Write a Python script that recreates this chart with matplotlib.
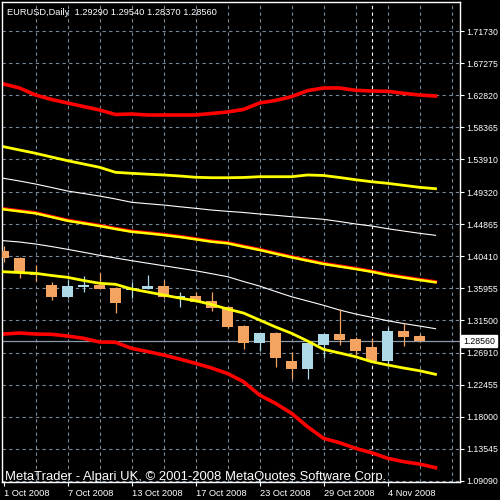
import matplotlib
matplotlib.use("Agg")
import matplotlib.pyplot as plt
import matplotlib.transforms as mtransforms
from matplotlib import font_manager
import numpy as np

# daily EURUSD bars, 1 Oct - 6 Nov 2008
dates = ["1 Oct", "2 Oct", "3 Oct", "6 Oct", "7 Oct", "8 Oct", "9 Oct", "10 Oct",
         "13 Oct", "14 Oct", "15 Oct", "16 Oct", "17 Oct", "20 Oct", "21 Oct", "22 Oct",
         "23 Oct", "24 Oct", "27 Oct", "28 Oct", "29 Oct", "30 Oct", "31 Oct",
         "3 Nov", "4 Nov", "5 Nov", "6 Nov"]
opens = [1.4111, 1.4013, 1.3804, 1.3637, 1.3470, 1.3609, 1.3637, 1.3596,
         1.3568, 1.3582, 1.3623, 1.3456, 1.3484, 1.3415, 1.3331, 1.3066,
         1.2830, 1.2969, 1.2579, 1.2468, 1.2802, 1.2955, 1.2885,
         1.2774, 1.2579, 1.2997, 1.29290]
highs = [1.4180, 1.4027, 1.3916, 1.3679, 1.3707, 1.3763, 1.3804, 1.3603,
         1.3679, 1.3776, 1.3707, 1.3540, 1.3540, 1.3540, 1.3345, 1.3080,
         1.2975, 1.2983, 1.2705, 1.2844, 1.2962, 1.3303, 1.2913,
         1.2899, 1.3053, 1.3108, 1.29540]
lows = [1.3957, 1.3735, 1.3693, 1.3428, 1.3463, 1.3540, 1.3575, 1.3247,
        1.3456, 1.3575, 1.3463, 1.3331, 1.3394, 1.3275, 1.3040, 1.2746,
        1.2718, 1.2496, 1.2329, 1.2329, 1.2621, 1.2802, 1.2663,
        1.2572, 1.2523, 1.2788, 1.28370]
closes = [1.4013, 1.3804, 1.3776, 1.3470, 1.3623, 1.3637, 1.3582, 1.3387,
          1.3596, 1.3623, 1.3470, 1.3484, 1.3401, 1.3317, 1.3053, 1.2830,
          1.2969, 1.2621, 1.2468, 1.2830, 1.2955, 1.2872, 1.2718,
          1.2579, 1.2997, 1.2913, 1.28560]

# indicator lines (one value more than bars, drawn one bar ahead)
red_upper = [1.6436, 1.6380, 1.6282, 1.6220, 1.6171, 1.6122, 1.6074, 1.6011, 1.6018, 1.6004,
             1.6004, 1.6004, 1.6004, 1.6025, 1.6046, 1.6081, 1.6171, 1.6206, 1.6259, 1.6343,
             1.6380, 1.6380, 1.6348, 1.6338, 1.6334, 1.6306, 1.6282, 1.6268]
yellow_upper = [1.5563, 1.5517, 1.5471, 1.5419, 1.5368, 1.5322, 1.5276, 1.5206, 1.5192, 1.5180,
                1.5169, 1.5155, 1.5137, 1.5131, 1.5131, 1.5134, 1.5145, 1.5145, 1.5145, 1.5169,
                1.5162, 1.5134, 1.5103, 1.5075, 1.5053, 1.5025, 1.4997, 1.4978]
white_upper = [1.5123, 1.5085, 1.5043, 1.4995, 1.4946, 1.4911, 1.4876, 1.4835, 1.4789, 1.4769,
               1.4751, 1.4727, 1.4705, 1.4681, 1.4663, 1.4647, 1.4626, 1.4608, 1.4588, 1.4570,
               1.4552, 1.4521, 1.4487, 1.4459, 1.4421, 1.4389, 1.4357, 1.4329]
middle = [1.4691, 1.4663, 1.4635, 1.4584, 1.4532, 1.4496, 1.4459, 1.4417, 1.4379, 1.4357,
          1.4333, 1.4306, 1.4274, 1.4240, 1.4218, 1.4170, 1.4125, 1.4073, 1.4023, 1.3976,
          1.3930, 1.3895, 1.3860, 1.3822, 1.3776, 1.3741, 1.3707, 1.3675]
white_lower = [1.4254, 1.4236, 1.4208, 1.4173, 1.4134, 1.4093, 1.4051, 1.4013, 1.3976, 1.3941,
               1.3906, 1.3871, 1.3836, 1.3795, 1.3753, 1.3686, 1.3623, 1.3547, 1.3474, 1.3415,
               1.3355, 1.3289, 1.3234, 1.3188, 1.3140, 1.3101, 1.3066, 1.3029]
yellow_lower = [1.3822, 1.3811, 1.3800, 1.3770, 1.3744, 1.3700, 1.3661, 1.3647, 1.3582, 1.3540,
                1.3498, 1.3456, 1.3419, 1.3366, 1.3303, 1.3247, 1.3150, 1.3053, 1.2965, 1.2858,
                1.2742, 1.2691, 1.2639, 1.2570, 1.2524, 1.2482, 1.2444, 1.2394]
red_lower = [1.2955, 1.2969, 1.2955, 1.2951, 1.2927, 1.2895, 1.2844, 1.2840, 1.2756, 1.2711,
             1.2663, 1.2607, 1.2547, 1.2482, 1.2405, 1.2291, 1.2106, 1.1990, 1.1851, 1.1665,
             1.1503, 1.1442, 1.1364, 1.1303, 1.1225, 1.1178, 1.1145, 1.1094]

price_ticks = [1.71730, 1.67275, 1.62820, 1.58365, 1.53910, 1.49320, 1.44865, 1.40410,
               1.35955, 1.31500, 1.26910, 1.22455, 1.18000, 1.13545, 1.09090]
date_tick_idx = [0, 4, 8, 12, 16, 20, 24]
date_tick_labels = ["1 Oct 2008", "7 Oct 2008", "13 Oct 2008", "17 Oct 2008",
                    "23 Oct 2008", "29 Oct 2008", "4 Nov 2008"]

BULL = "#add8e6"
BEAR = "#f4a460"
GRID = "#778899"

# the terminal font is narrow; use a narrow face if there is one
installed = {f.name for f in font_manager.fontManager.ttflist}
if "Liberation Sans Narrow" in installed:
    FONT = ["Liberation Sans Narrow", "DejaVu Sans"]
    AXIS_FS = 7.5
    TITLE_FS = 8.2
    COPY_FS = 11
else:
    FONT = ["Liberation Sans", "DejaVu Sans"]
    AXIS_FS = 6.3
    TITLE_FS = 6.7
    COPY_FS = 9.4

fig = plt.figure(figsize=(5, 5), dpi=100, facecolor="black")
ax = fig.add_axes([0.004, 0.036, 0.916, 0.96], facecolor="black")

x = np.arange(len(closes))
xl = np.arange(len(middle))

# grid every two bars, period separator at start of November
for gx in np.arange(2, 29, 2):
    ax.axvline(gx, color=GRID, lw=0.8, ls=(0, (3, 3)), zorder=0)
for gy in price_ticks:
    ax.axhline(gy, color=GRID, lw=0.8, ls=(0, (3, 3)), zorder=0)
ax.axvline(dates.index("3 Nov"), color="white", lw=0.8, ls=(0, (3, 3)), zorder=0.5)

# indicator lines
ax.plot(xl, red_upper, color="red", lw=2.6, zorder=2)
ax.plot(xl, red_lower, color="red", lw=2.6, zorder=2)
ax.plot(xl, yellow_upper, color="yellow", lw=2.0, zorder=2)
ax.plot(xl, yellow_lower, color="yellow", lw=2.0, zorder=4)
ax.plot(xl, np.array(middle) + 0.0008, color="red", lw=2.4, zorder=2)
ax.plot(xl, middle, color="yellow", lw=1.8, zorder=3)
ax.plot(xl, white_upper, color="white", lw=0.8, zorder=2)
ax.plot(xl, white_lower, color="white", lw=0.8, zorder=2)

# current price line
ax.axhline(closes[-1], color="#8a99aa", lw=0.9, zorder=1)

# candles
for i in x:
    o, h, l, c = opens[i], highs[i], lows[i], closes[i]
    col = BULL if c >= o else BEAR
    ax.vlines(i, l, h, color=col, lw=0.9, zorder=3)
    ax.bar(i, max(abs(c - o), 0.0012), bottom=min(o, c), width=0.72,
           color=col, edgecolor=col, lw=0, zorder=3)

ax.set_xlim(-0.094, 28.53)
ax.set_ylim(1.0895, 1.7577)

for s in ax.spines.values():
    s.set_color("white")
    s.set_linewidth(1.0)

ax.yaxis.tick_right()
ax.set_yticks(price_ticks)
ax.set_yticklabels(["%.5f" % v for v in price_ticks], family=FONT, fontsize=AXIS_FS, color="white")
ax.set_xticks(date_tick_idx)
ax.set_xticklabels(date_tick_labels, family=FONT, fontsize=AXIS_FS + 0.4, color="white", ha="left")
ax.tick_params(axis="both", colors="white", length=3, width=0.8, pad=1.5)
ax.tick_params(axis="x", pad=2)

# current price tag
trans = mtransforms.blended_transform_factory(ax.transAxes, ax.transData)
ax.text(1.007, closes[-1], "%.5f" % closes[-1], transform=trans, ha="left", va="center",
        family=FONT, fontsize=AXIS_FS, color="black",
        bbox=dict(boxstyle="square,pad=0.2", fc="white", ec="white"), zorder=10, clip_on=False)

ax.text(0.01, 0.988, "EURUSD,Daily  %.5f %.5f %.5f %.5f" % (opens[-1], highs[-1], lows[-1], closes[-1]),
        transform=ax.transAxes, ha="left", va="top", family=FONT, fontsize=TITLE_FS, color="white")
ax.text(0.007, -0.002, "MetaTrader - Alpari UK, \u00a9 2001-2008 MetaQuotes Software Corp.",
        transform=ax.transAxes, ha="left", va="bottom", family=FONT, fontsize=COPY_FS, color="white")

fig.savefig("out.png", dpi=100, facecolor="black")
